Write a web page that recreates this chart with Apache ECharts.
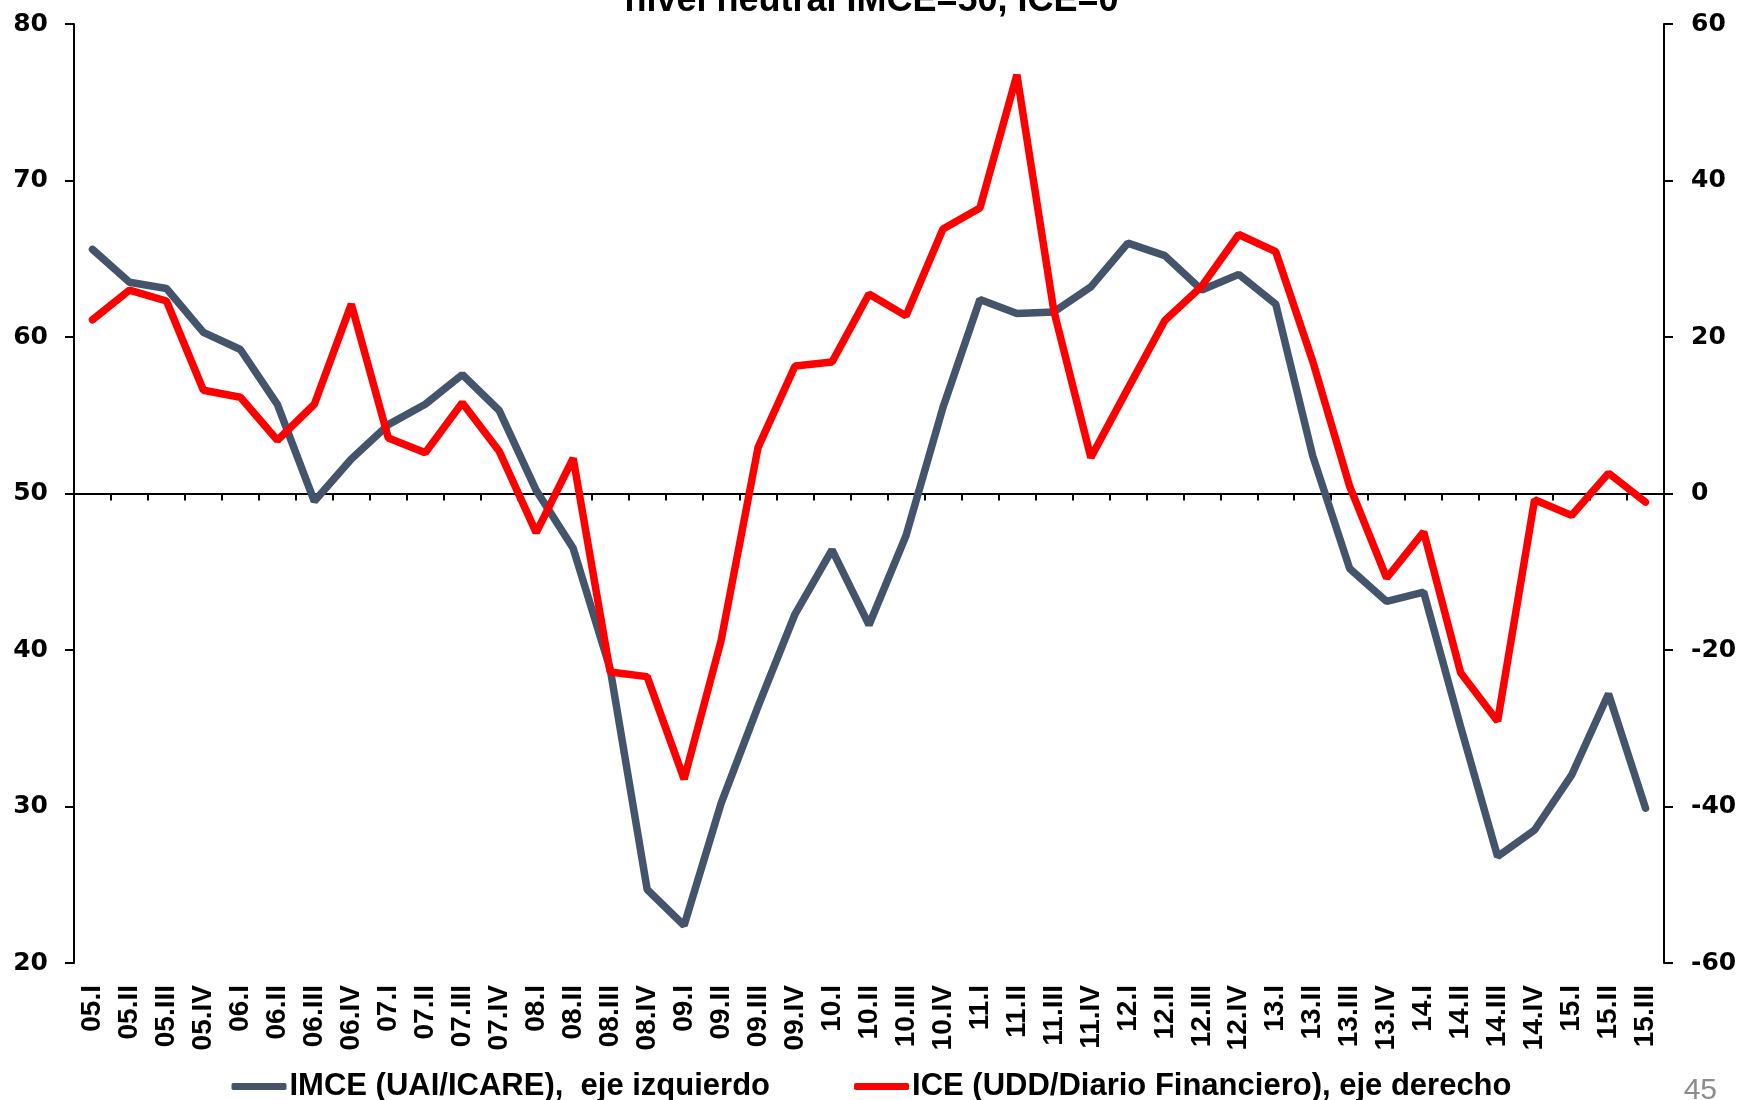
<!DOCTYPE html>
<html>
<head>
<meta charset="utf-8">
<title>IMCE vs ICE</title>
<script src="https://cdn.jsdelivr.net/npm/echarts@6/dist/echarts.min.js"></script>
<style>
    html, body { margin: 0; padding: 0; background: #FFFFFF; }
    #chart { width: 1743px; height: 1100px; }
</style>
</head>
<body>
<div id="chart"></div>
<script>
// Quarters 2005.I - 2015.III
const quarters = [
    '05.I', '05.II', '05.III', '05.IV', '06.I', '06.II', '06.III', '06.IV',
    '07.I', '07.II', '07.III', '07.IV', '08.I', '08.II', '08.III', '08.IV',
    '09.I', '09.II', '09.III', '09.IV', '10.I', '10.II', '10.III', '10.IV',
    '11.I', '11.II', '11.III', '11.IV', '12.I', '12.II', '12.III', '12.IV',
    '13.I', '13.II', '13.III', '13.IV', '14.I', '14.II', '14.III', '14.IV',
    '15.I', '15.II', '15.III'
];

// IMCE (UAI/ICARE) - left axis
const imceValues = [
    65.6, 63.5, 63.1, 60.3, 59.2, 55.7, 49.5, 52.2,
    54.4, 55.7, 57.6, 55.3, 50.2, 46.5, 38.8, 24.7,
    22.4, 30.2, 36.4, 42.3, 46.4, 41.6, 47.3, 55.5,
    62.4, 61.5, 61.6, 63.2, 66.0, 65.2, 63.0, 64.0,
    62.1, 52.4, 45.2, 43.1, 43.7, 35.1, 26.8, 28.5,
    32.0, 37.2, 29.9
];

// ICE (UDD/Diario Financiero) - right axis
const iceValues = [
    22.2, 26.0, 24.6, 13.2, 12.3, 6.8, 11.4, 24.2,
    7.1, 5.2, 11.6, 5.4, -5.0, 4.5, -22.8, -23.4,
    -36.5, -18.8, 5.9, 16.3, 16.8, 25.5, 22.7, 33.8,
    36.5, 53.5, 23.3, 4.6, 13.4, 22.1, 26.5, 33.1,
    30.9, 16.9, 0.9, -10.8, -4.9, -22.9, -29.1, -0.8,
    -2.8, 2.6, -1.1
];

const leftTicks = { min: 20, max: 80, interval: 10 };
const rightTicks = { min: -60, max: 60, interval: 20 };

const seriesNames = ['IMCE (UAI/ICARE),  eje izquierdo', 'ICE (UDD/Diario Financiero), eje derecho'];
const titleText = 'nivel neutral IMCE=50, ICE=0';
const pageNumber = '45';

const colors = {
    imce: '#44546A',
    ice: '#FF0000',
    axis: '#000000',
    page: '#8C8C8C'
};

const chartDom = document.getElementById('chart');
const myChart = echarts.init(chartDom);

const labelFont = 'DejaVu Sans, Verdana, sans-serif';
const textFont = 'Liberation Sans, Arial, sans-serif';

const option = {
    backgroundColor: '#FFFFFF',
    animation: false,
    title: {
        text: titleText,
        left: 'center',
        top: -22,
        textStyle: {
            fontFamily: textFont,
            fontSize: 36,
            fontWeight: 'bold',
            color: '#000000'
        }
    },
    graphic: [{
        type: 'text',
        right: 26,
        top: 1076,
        style: {
            text: pageNumber,
            fontFamily: textFont,
            fontSize: 30,
            fill: colors.page
        }
    }],
    legend: {
        left: 'center',
        top: 1066,
        itemWidth: 55,
        itemHeight: 7,
        itemGap: 84,
        icon: 'roundRect',
        data: seriesNames,
        textStyle: {
            fontFamily: textFont,
            fontSize: 31,
            fontWeight: 'bold',
            color: '#000000',
            padding: [0, 0, 0, -2]
        }
    },
    grid: {
        left: 74,
        right: 79,
        top: 24,
        bottom: 137
    },
    xAxis: [{
        // zero line (ICE = 0 / IMCE = 50) with its ticks
        type: 'category',
        position: 'top',
        data: quarters,
        axisLine: {
            onZero: true,
            onZeroAxisIndex: 1,
            lineStyle: { color: colors.axis, width: 2 }
        },
        axisTick: {
            show: true,
            inside: true,
            interval: 0,
            length: 7,
            lineStyle: { color: colors.axis, width: 2 }
        },
        axisLabel: { show: false },
        splitLine: { show: false }
    }, {
        // category labels at the bottom
        type: 'category',
        position: 'bottom',
        data: quarters,
        axisLine: { show: false },
        axisTick: { show: false },
        axisLabel: {
            interval: 0,
            rotate: 90,
            margin: 22,
            fontFamily: textFont,
            fontSize: 28,
            fontWeight: 'bold',
            color: '#000000'
        },
        splitLine: { show: false }
    }],
    yAxis: [{
        type: 'value',
        position: 'left',
        min: leftTicks.min,
        max: leftTicks.max,
        interval: leftTicks.interval,
        axisLine: { show: true, onZero: false, lineStyle: { color: colors.axis, width: 2 } },
        axisTick: { show: true, length: 9, lineStyle: { color: colors.axis, width: 2 } },
        axisLabel: {
            margin: 26,
            fontFamily: labelFont,
            fontSize: 25,
            fontWeight: 'bold',
            color: '#000000'
        },
        splitLine: { show: false }
    }, {
        type: 'value',
        position: 'right',
        min: rightTicks.min,
        max: rightTicks.max,
        interval: rightTicks.interval,
        axisLine: { show: true, onZero: false, lineStyle: { color: colors.axis, width: 2 } },
        axisTick: { show: true, length: 9, lineStyle: { color: colors.axis, width: 2 } },
        axisLabel: {
            margin: 27,
            fontFamily: labelFont,
            fontSize: 25,
            fontWeight: 'bold',
            color: '#000000'
        },
        splitLine: { show: false }
    }],
    series: [{
        name: seriesNames[0],
        type: 'line',
        xAxisIndex: 1,
        yAxisIndex: 0,
        data: imceValues,
        symbol: 'none',
        lineStyle: { color: colors.imce, width: 7.5, cap: 'round' },
        itemStyle: { color: colors.imce },
        z: 3
    }, {
        name: seriesNames[1],
        type: 'line',
        xAxisIndex: 1,
        yAxisIndex: 1,
        data: iceValues,
        symbol: 'none',
        lineStyle: { color: colors.ice, width: 7.5, cap: 'round' },
        itemStyle: { color: colors.ice },
        z: 4
    }]
};

myChart.setOption(option);
</script>
</body>
</html>
